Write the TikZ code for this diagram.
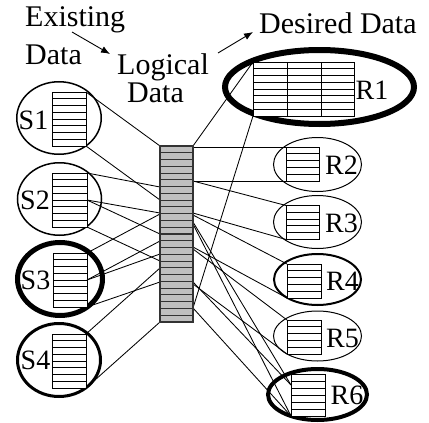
\documentclass[tikz,border=0pt]{standalone}
\usepackage{fontspec}
\setmainfont{Liberation Serif}
\usetikzlibrary{shapes.geometric,arrows.meta}
\tikzset{
  tblbox/.style={draw=black, line width=0.9pt, fill=white, inner sep=0pt, outer sep=0pt, rectangle},
  rowline/.style={draw=black, line width=0.9pt},
  barbox/.style={draw=black!80, line width=1.1pt, fill=black!25, inner sep=0pt, outer sep=0pt, rectangle},
  barrow/.style={draw=black!80, line width=1.1pt},
  ell/.style={draw=black, ellipse, inner sep=0pt, outer sep=0pt},
  conn/.style={draw=black, line width=0.85pt},
  arr/.style={draw=black, line width=0.9pt, -{Latex[length=9pt,width=7pt]}},
  title/.style={font=\fontsize{30}{32}\selectfont, inner sep=0pt},
  lbl/.style={font=\fontsize{28}{30}\selectfont, inner sep=0pt}
}
\newcommand\mytable[7][tblbox]{%
  \node[#1, minimum width=#5pt, minimum height=#6pt, anchor=north west] (#2) at (#3,#4) {};
  \foreach \i in {1,...,#7} {\draw[rowline] (#3,{#4+\i*#6/(#7+1)}) -- ++(#5,0);}
}
\begin{document}
\begin{tikzpicture}[x=1pt,y=-1pt]
\useasboundingbox (0,0) rectangle (429,423);

% ellipses
\node[ell, line width=1.5pt, minimum width=84.5pt, minimum height=72.5pt] (e1) at (59,118) {};
\node[ell, line width=1.5pt, minimum width=84pt, minimum height=72.5pt] (e2) at (59.5,199) {};
\node[ell, line width=5pt, minimum width=85pt, minimum height=73pt] (e3) at (60,279) {};
\node[ell, line width=3pt, minimum width=83pt, minimum height=73pt] (e4) at (59,360) {};
\node[ell, line width=6pt, minimum width=189pt, minimum height=74pt] (f1) at (319.5,87) {};
\node[ell, line width=1pt, minimum width=88pt, minimum height=54pt] (f2) at (317.5,164.5) {};
\node[ell, line width=1pt, minimum width=88pt, minimum height=53pt] (f3) at (317.5,222) {};
\node[ell, line width=2pt, minimum width=87pt, minimum height=51pt] (f4) at (317.5,279.5) {};
\node[ell, line width=1pt, minimum width=88pt, minimum height=50pt] (f5) at (317.5,336) {};
\node[ell, line width=4pt, minimum width=99pt, minimum height=51pt] (f6) at (317.5,394.5) {};

% bar coordinates
\foreach \y in {146,187,200,213,214,234,241,254,261,268,282,322} {\coordinate (bl\y) at (160,\y);}
\foreach \y in {146,147,181,213,215,222,224,247,249,282,284,308} {\coordinate (br\y) at (193,\y);}
\coordinate (s2m) at (87,200);
\coordinate (s3m) at (87,280);
\coordinate (r6m) at (291,385);

% tables
\mytable{s1}{52}{92}{34}{54}{7}
\mytable{s2}{52.5}{173}{34.5}{54}{7}
\mytable{s3}{53}{253}{34}{54}{7}
\mytable{s4}{52}{334}{34}{54}{7}
\mytable{r2}{286}{147}{33}{34}{4}
\mytable{r3}{286}{205.5}{33}{34}{4}
\mytable{r4}{287}{264}{34}{34}{4}
\mytable{r5}{287}{320}{34}{34}{4}
\mytable{r6}{291}{374}{34}{42}{5}
\mytable{r1}{253}{62}{101}{54}{7}
\draw[rowline] (287,62) -- (287,116);
\draw[rowline] (321,62) -- (321,116);

% connectors left
\draw[conn] (s1.north east) -- (bl146);
\draw[conn] (s1.south east) -- (bl200);
\draw[conn] (s2.north east) -- (bl187);
\draw[conn] (s2m) -- (bl213);
\draw[conn] (s2m) -- (bl234);
\draw[conn] (s2.south east) -- (bl261);
\draw[conn] (s3.north east) -- (bl214);
\draw[conn] (s3m) -- (bl241);
\draw[conn] (s3m) -- (bl254);
\draw[conn] (s3.south east) -- (bl282);
\draw[conn] (s4.north east) -- (bl268);
\draw[conn] (s4.south east) -- (bl322);

% connectors right
\draw[conn] (br146) -- (r1.north west);
\draw[conn] (br147) -- (r2.north west);
\draw[conn] (br181) -- (r2.south west);
\draw[conn] (br181) -- (r3.north west);
\draw[conn] (br213) -- (r3.south west);
\draw[conn] (br215) -- (r4.north west);
\draw[conn] (br222) -- (r6m);
\draw[conn] (br224) -- (r6.south west);
\draw[conn] (br247) -- (r4.south west);
\draw[conn] (br249) -- (r5.north west);
\draw[conn] (br282) -- (r6m);
\draw[conn] (br284) -- (r5.south west);
\draw[conn] (br308) -- (r1.south west);
\draw[conn] (br308) -- (r6.south west);

% central bar
\node[barbox, minimum width=33pt, minimum height=176pt, anchor=north west] (bar) at (160,146) {};
\foreach \i in {1,...,25} {\draw[barrow] (160,{146+\i*176/26}) -- ++(33,0);}

% labels
\node[lbl] (ls1) at (33.5,120) {S1};
\node[lbl] (ls2) at (35,200) {S2};
\node[lbl] (ls3) at (35.5,280) {S3};
\node[lbl] (ls4) at (35.5,360) {S4};
\node[lbl] (lr1) at (372,90) {R1};
\node[lbl] (lr2) at (341.5,165) {R2};
\node[lbl] (lr3) at (341.5,223) {R3};
\node[lbl] (lr4) at (342.5,281) {R4};
\node[lbl] (lr5) at (342.5,338) {R5};
\node[lbl] (lr6) at (347,395) {R6};

% titles
\node[title, anchor=base west] (t1) at (25,27) {Existing};
\node[title, anchor=base west] (t2) at (25,64) {Data};
\node[title, anchor=base west] (t3) at (117,74.5) {Logical};
\node[title, anchor=base west] (t4) at (127,102.5) {Data};
\node[title, anchor=base west] (t5) at (259,33) {Desired Data};

% arrows
\coordinate (a1s) at (72,32);
\coordinate (a1e) at (110,54);
\coordinate (a2s) at (218,53);
\coordinate (a2e) at (253,32);
\draw[arr] (a1s) -- (a1e);
\draw[arr] (a2s) -- (a2e);
\end{tikzpicture}
\end{document}
